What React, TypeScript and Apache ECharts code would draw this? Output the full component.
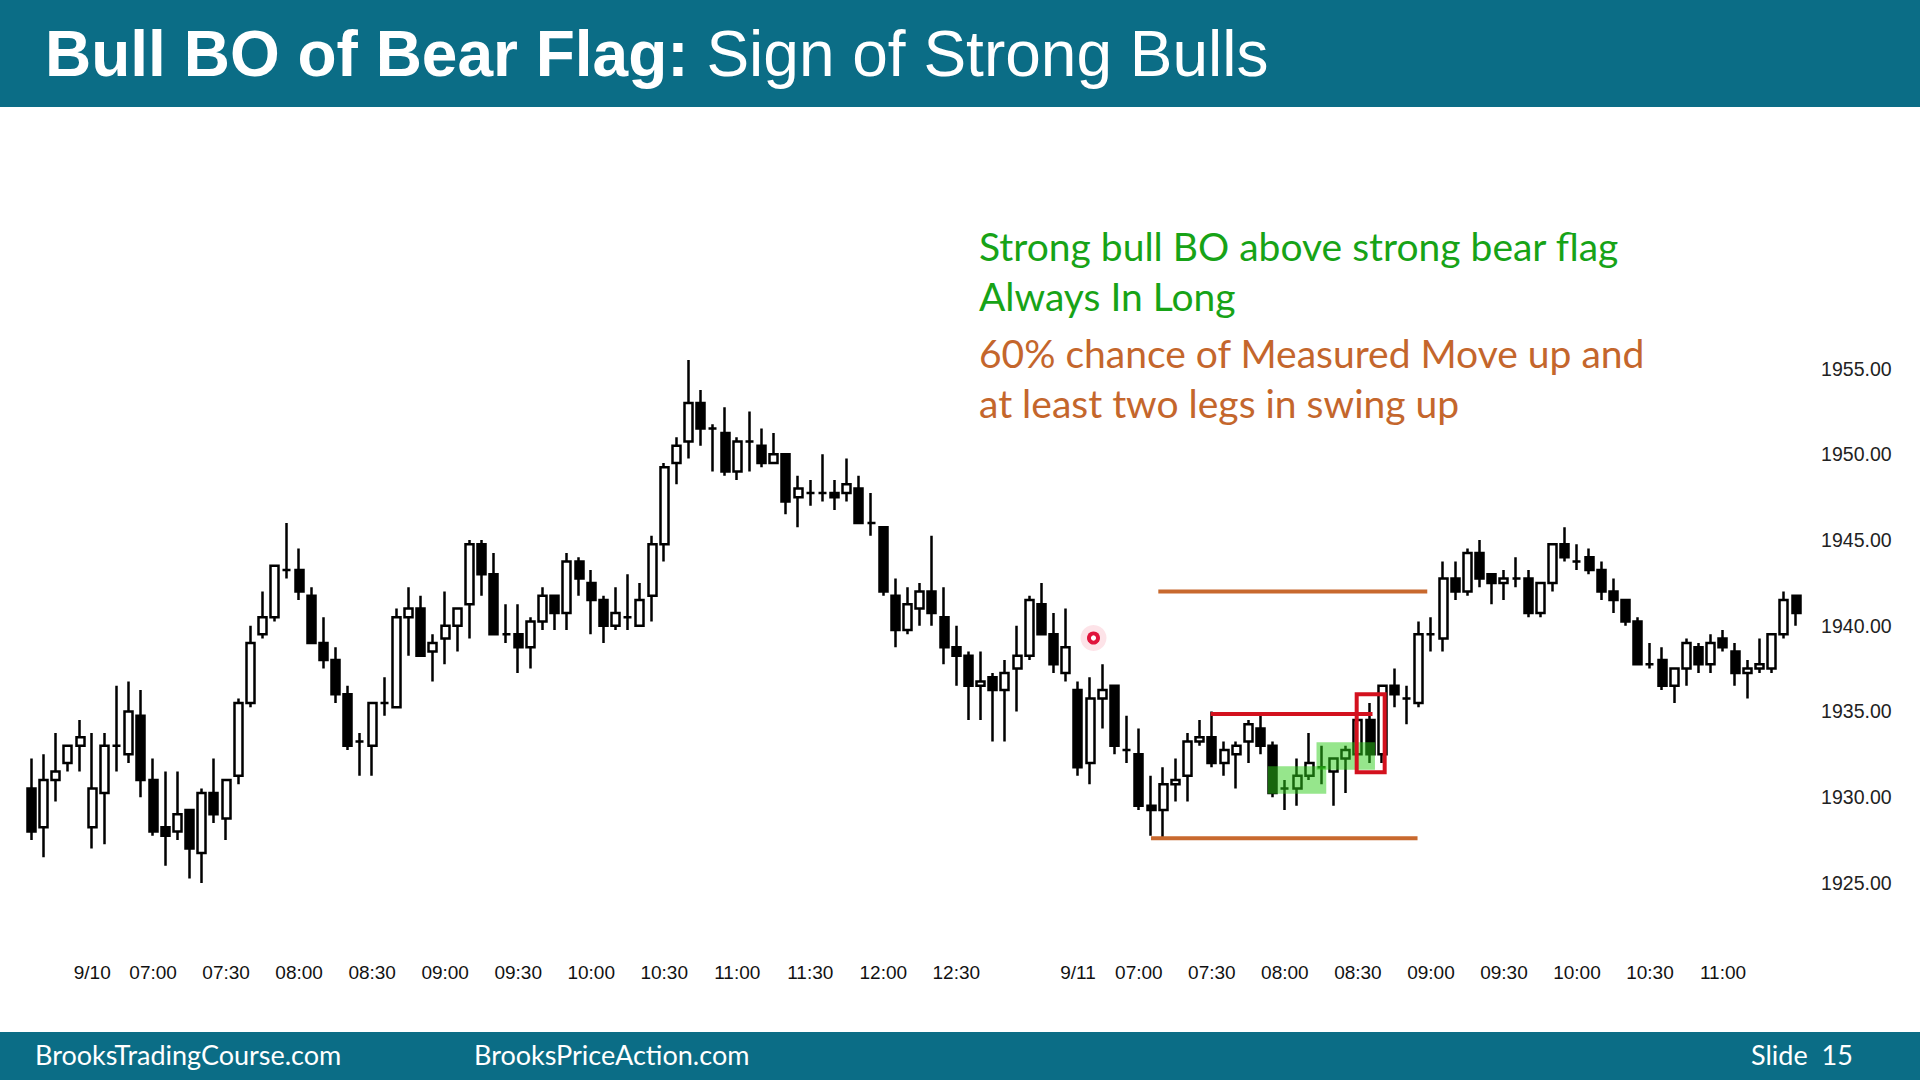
import React, { useEffect, useRef } from 'react';
import * as echarts from 'echarts';

// ---------- DATA ----------
const opens = [
  1930.5, 1928.25, 1931.0, 1932.0, 1933.0, 1928.25, 1930.25, 1933.0, 1932.5, 1934.75,
  1931.0, 1928.25, 1928.0, 1929.25, 1926.75, 1930.25, 1928.75, 1931.25, 1935.5, 1939.5,
  1940.5, 1943.25, 1943.25, 1941.75, 1939.0, 1938.0, 1936.0, 1933.25, 1933.0, 1935.5,
  1935.25, 1940.5, 1941.0, 1938.5, 1939.25, 1940.0, 1941.25, 1944.75, 1943.0, 1939.5,
  1939.5, 1938.75, 1940.25, 1941.75, 1940.75, 1943.75, 1942.5, 1941.5, 1940.0, 1940.5,
  1940.0, 1941.75, 1944.75, 1949.5, 1950.75, 1953.0, 1951.5, 1951.25, 1949.0, 1950.75,
  1950.5, 1949.5, 1950.0, 1947.5, 1947.75, 1947.75, 1947.75, 1947.75, 1948.0, 1946.0,
  1945.75, 1941.75, 1939.75, 1941.0, 1942.0, 1940.5, 1938.75, 1938.25, 1936.5, 1937.0,
  1936.25, 1937.5, 1938.25, 1941.25, 1939.5, 1937.25, 1936.25, 1932.0, 1935.75, 1936.5,
  1932.75, 1932.5, 1929.5, 1929.25, 1930.75, 1931.25, 1933.25, 1933.5, 1932.0, 1932.5,
  1933.25, 1934.0, 1933.0, 1930.5, 1930.5, 1931.25, 1931.75, 1931.5, 1932.25, 1932.5,
  1934.5, 1932.5, 1936.5, 1935.75, 1935.5, 1939.5, 1939.25, 1942.75, 1942.0, 1944.25,
  1943.0, 1942.5, 1942.75, 1942.75, 1940.75, 1942.5, 1944.75, 1943.75, 1944.0, 1943.25,
  1942.0, 1941.5, 1940.25, 1937.75, 1938.0, 1936.5, 1937.5, 1938.75, 1937.75, 1939.25,
  1938.5, 1937.25, 1937.5, 1937.5, 1939.5, 1941.75,
];
const highs = [
  1932.25, 1932.5, 1933.75, 1933.0, 1934.5, 1933.75, 1933.75, 1936.5, 1936.75, 1936.25,
  1932.25, 1931.5, 1931.5, 1929.25, 1930.5, 1932.25, 1931.0, 1935.75, 1940.0, 1942.0,
  1943.5, 1946.0, 1944.5, 1942.25, 1940.5, 1938.75, 1936.5, 1933.75, 1935.5, 1937.0,
  1941.0, 1942.25, 1941.75, 1939.5, 1942.0, 1941.0, 1945.0, 1945.0, 1944.25, 1941.25,
  1941.25, 1940.5, 1942.25, 1941.75, 1944.25, 1944.0, 1943.25, 1941.75, 1942.25, 1943.0,
  1942.5, 1945.25, 1949.5, 1951.0, 1955.5, 1953.75, 1951.75, 1952.75, 1951.0, 1952.5,
  1951.5, 1951.25, 1950.0, 1948.75, 1948.5, 1950.0, 1948.5, 1949.75, 1948.75, 1947.75,
  1945.75, 1942.75, 1942.25, 1942.5, 1945.25, 1942.25, 1940.0, 1938.5, 1938.5, 1937.25,
  1938.0, 1940.0, 1941.75, 1942.5, 1940.75, 1941.0, 1936.75, 1937.0, 1937.75, 1936.5,
  1934.75, 1934.0, 1931.25, 1931.75, 1932.25, 1933.75, 1934.5, 1935.0, 1933.25, 1933.25,
  1934.5, 1934.75, 1933.25, 1931.0, 1932.25, 1933.75, 1933.0, 1932.25, 1933.0, 1934.5,
  1935.5, 1936.5, 1937.5, 1936.5, 1940.25, 1940.5, 1943.75, 1943.75, 1944.5, 1945.0,
  1943.0, 1943.25, 1944.0, 1943.25, 1942.5, 1944.75, 1945.75, 1944.75, 1944.5, 1943.75,
  1942.75, 1941.5, 1940.5, 1939.0, 1938.75, 1937.5, 1939.25, 1939.0, 1939.5, 1939.75,
  1939.0, 1938.0, 1939.25, 1939.5, 1942.0, 1941.75,
];
const lows = [
  1927.5, 1926.5, 1929.75, 1931.5, 1931.5, 1927.0, 1927.25, 1931.5, 1932.0, 1930.0,
  1927.75, 1926.0, 1927.5, 1925.25, 1925.0, 1928.5, 1927.5, 1930.75, 1935.25, 1939.25,
  1940.25, 1942.75, 1941.5, 1939.0, 1937.5, 1935.5, 1932.75, 1931.25, 1931.25, 1934.75,
  1935.25, 1938.25, 1938.25, 1936.75, 1937.75, 1938.5, 1939.25, 1941.75, 1939.5, 1939.0,
  1937.25, 1937.5, 1939.75, 1939.75, 1939.75, 1941.75, 1939.5, 1939.0, 1939.75, 1939.75,
  1940.0, 1940.25, 1943.75, 1948.25, 1949.75, 1950.5, 1949.0, 1948.75, 1948.5, 1949.0,
  1949.25, 1949.5, 1946.5, 1945.75, 1947.0, 1947.25, 1946.75, 1947.25, 1946.0, 1945.25,
  1941.75, 1938.75, 1939.5, 1940.0, 1940.0, 1937.75, 1936.5, 1934.5, 1934.5, 1933.25,
  1933.25, 1935.0, 1938.0, 1939.5, 1937.25, 1936.75, 1931.25, 1930.75, 1934.0, 1932.5,
  1932.0, 1929.25, 1927.75, 1927.5, 1929.75, 1929.75, 1933.0, 1931.75, 1931.25, 1930.5,
  1932.0, 1932.5, 1930.0, 1929.25, 1929.5, 1931.0, 1930.75, 1929.5, 1930.25, 1932.5,
  1932.0, 1932.0, 1935.25, 1934.25, 1935.25, 1938.5, 1938.5, 1941.5, 1941.75, 1942.25,
  1941.25, 1941.5, 1942.25, 1940.5, 1940.5, 1942.0, 1943.75, 1943.25, 1943.0, 1941.5,
  1940.75, 1940.0, 1937.75, 1937.5, 1936.25, 1935.5, 1936.5, 1937.25, 1937.25, 1938.5,
  1936.5, 1935.75, 1937.25, 1937.25, 1939.25, 1940.0,
];
const closes = [
  1928.0, 1931.0, 1931.5, 1933.0, 1933.5, 1930.5, 1933.0, 1933.0, 1935.0, 1931.0,
  1928.0, 1927.75, 1929.0, 1927.0, 1930.25, 1929.0, 1931.0, 1935.5, 1939.0, 1940.5,
  1943.5, 1943.25, 1942.0, 1939.0, 1938.0, 1936.0, 1933.0, 1933.25, 1935.5, 1935.5,
  1940.5, 1941.0, 1938.25, 1939.0, 1940.0, 1941.0, 1944.75, 1943.0, 1939.5, 1939.5,
  1938.75, 1940.25, 1941.75, 1940.75, 1943.75, 1942.75, 1941.5, 1940.0, 1940.75, 1940.5,
  1941.5, 1944.75, 1949.25, 1950.5, 1953.0, 1951.5, 1951.5, 1949.0, 1950.75, 1950.75,
  1949.5, 1950.0, 1947.25, 1948.0, 1947.75, 1947.75, 1947.5, 1948.25, 1946.0, 1946.0,
  1942.0, 1939.75, 1941.25, 1942.0, 1940.75, 1938.75, 1938.25, 1936.5, 1936.75, 1936.25,
  1937.25, 1938.25, 1941.5, 1939.5, 1937.75, 1938.75, 1931.75, 1935.75, 1936.25, 1933.0,
  1932.75, 1929.5, 1929.25, 1930.75, 1931.0, 1933.25, 1933.5, 1932.0, 1932.75, 1933.0,
  1934.25, 1933.0, 1930.25, 1930.5, 1931.25, 1932.0, 1931.75, 1932.25, 1932.75, 1934.5,
  1932.5, 1936.5, 1936.0, 1935.75, 1939.5, 1939.5, 1942.75, 1942.0, 1944.25, 1942.75,
  1942.5, 1942.75, 1942.75, 1940.75, 1942.5, 1944.75, 1944.0, 1943.75, 1943.25, 1942.0,
  1941.5, 1940.25, 1937.75, 1937.75, 1936.5, 1937.5, 1939.0, 1937.75, 1939.0, 1938.75,
  1937.25, 1937.5, 1937.75, 1939.5, 1941.5, 1940.75,
];

// sessions shown on the chart (5-minute bars)
const sessionDates = ['9/9', '9/10', '9/11'];
const sessionStarts = ['12:55', '06:35', '06:35'];
const sessionEnds = ['13:15', '13:15', '11:30'];

// labelled bars on the time axis
const xTickKeys = [
  '9/10 06:35', '9/10 07:00', '9/10 07:30', '9/10 08:00', '9/10 08:30', '9/10 09:00', '9/10 09:30',
  '9/10 10:00', '9/10 10:30', '9/10 11:00', '9/10 11:30', '9/10 12:00', '9/10 12:30',
  '9/11 06:35', '9/11 07:00', '9/11 07:30', '9/11 08:00', '9/11 08:30', '9/11 09:00', '9/11 09:30',
  '9/11 10:00', '9/11 10:30', '9/11 11:00',
];
const xTickLabels = [
  '9/10', '07:00', '07:30', '08:00', '08:30', '09:00', '09:30',
  '10:00', '10:30', '11:00', '11:30', '12:00', '12:30',
  '9/11', '07:00', '07:30', '08:00', '08:30', '09:00', '09:30',
  '10:00', '10:30', '11:00',
];
const yTicks = [1925, 1930, 1935, 1940, 1945, 1950, 1955];

// annotations in data coordinates: [barFrom, barTo, price]
const measuredMoveLines = [
  [92.6, 114.7, 1942.0],
  [92.0, 113.9, 1927.6],
];
const flagTopLine = [96.9, 110.2, 1934.85];
// boxes: [barFrom, barTo, priceLow, priceHigh]
const greenBoxes = [
  [101.6, 106.4, 1930.2, 1931.8],
  [105.6, 110.4, 1931.6, 1933.2],
];
const redBoxes = [[108.9, 111.2, 1931.45, 1936.0]];

// ---------- helpers ----------
const toMin = (s: string) => {
  const [h, m] = s.split(':').map(Number);
  return h * 60 + m;
};
const fmt = (t: number) =>
  `${String(Math.floor(t / 60)).padStart(2, '0')}:${String(t % 60).padStart(2, '0')}`;

const categories: string[] = [];
sessionDates.forEach((d, i) => {
  for (let t = toMin(sessionStarts[i]); t <= toMin(sessionEnds[i]); t += 5) {
    categories.push(`${d} ${fmt(t)}`);
  }
});

const TEAL = '#0B6D86';
const ORANGE = '#C8692E';
const RED = '#D3111E';
const SANS = '"Liberation Sans", Arial, sans-serif';
const CAL = 'Lato, "Open Sans", sans-serif';

export default function App() {
  const ref = useRef<HTMLDivElement>(null);

  useEffect(() => {
    if (!ref.current) return;
    const chart = echarts.init(ref.current, undefined, { renderer: 'svg' });

    const candleData = categories.map((_, i) => [opens[i], closes[i], lows[i], highs[i]]);
    const n = categories.length;

    const lineSeries = [...measuredMoveLines.map((l) => ({ l, color: ORANGE, w: 4 })), { l: flagTopLine, color: RED, w: 4 }].map(
      (o) => ({
        type: 'line',
        xAxisIndex: 1,
        yAxisIndex: 0,
        data: [
          [o.l[0], o.l[2]],
          [o.l[1], o.l[2]],
        ],
        symbol: 'none',
        lineStyle: { color: o.color, width: o.w },
        z: 5,
        silent: true,
      })
    );

    const boxSeries = (data: number[][], style: any, z: number) => ({
      type: 'custom',
      xAxisIndex: 1,
      yAxisIndex: 0,
      z,
      silent: true,
      encode: { x: [0, 1], y: [2, 3] },
      data,
      renderItem: (_p: any, api: any) => {
        const a = api.coord([api.value(0), api.value(3)]);
        const b = api.coord([api.value(1), api.value(2)]);
        return {
          type: 'rect',
          shape: { x: a[0], y: a[1], width: b[0] - a[0], height: b[1] - a[1] },
          style,
        };
      },
    });

    const option: any = {
      animation: false,
      backgroundColor: '#ffffff',
      grid: { left: 25.3, width: 1776.8, top: 282.9, height: 600, containLabel: false },
      xAxis: [
        {
          type: 'category',
          data: categories,
          boundaryGap: true,
          axisLine: { show: false },
          axisTick: { show: false },
          splitLine: { show: false },
          axisLabel: {
            interval: 0,
            margin: 80,
            color: '#111',
            fontSize: 19,
            fontFamily: SANS,
            formatter: (v: string) => {
              const k = xTickKeys.indexOf(v);
              return k >= 0 ? xTickLabels[k] : '';
            },
          },
        },
        {
          type: 'value',
          show: false,
          min: -0.5,
          max: n - 0.5,
        },
      ],
      yAxis: {
        type: 'value',
        position: 'right',
        min: 1925,
        max: 1960,
        interval: 5,
        axisLine: { show: false },
        axisTick: { show: false },
        splitLine: { show: false },
        axisLabel: {
          margin: 19,
          color: '#222',
          fontSize: 19.5,
          fontFamily: SANS,
          align: 'left',
          formatter: (v: number) => (yTicks.includes(v) ? v.toFixed(2) : ''),
        },
      },
      series: [
        {
          type: 'candlestick',
          data: candleData,
          barWidth: 8.5,
          z: 2,
          itemStyle: {
            color: '#ffffff',
            color0: '#000000',
            borderColor: '#000000',
            borderColor0: '#000000',
            borderColorDoji: '#000000',
            borderWidth: 2.5,
          },
        },
        boxSeries(greenBoxes, { fill: 'rgba(45,205,25,0.5)' }, 3),
        boxSeries(redBoxes, { fill: 'none', stroke: RED, lineWidth: 4 }, 6),
        ...lineSeries,
      ],
      graphic: [
        { type: 'rect', shape: { x: 0, y: 0, width: 1920, height: 107 }, style: { fill: TEAL }, z: 10 },
        {
          type: 'text',
          x: 45,
          y: 54,
          z: 11,
          style: {
            text: '{b|Bull BO of Bear Flag:} {r|Sign of Strong Bulls}',
            verticalAlign: 'middle',
            align: 'left',
            fill: '#fff',
            fontSize: 64,
            fontFamily: SANS,
            rich: {
              b: { fontWeight: 'bold', fontSize: 64, fontFamily: SANS, fill: '#fff' },
              r: { fontWeight: 'normal', fontSize: 64, fontFamily: SANS, fill: '#fff' },
            },
          },
        },
        { type: 'rect', shape: { x: 0, y: 1032, width: 1920, height: 48 }, style: { fill: TEAL }, z: 10 },
        {
          type: 'text', x: 35, y: 1054, z: 11,
          style: { text: 'BrooksTradingCourse.com', fill: '#fff', fontSize: 27, fontFamily: CAL, verticalAlign: 'middle' },
        },
        {
          type: 'text', x: 474, y: 1054, z: 11,
          style: { text: 'BrooksPriceAction.com', fill: '#fff', fontSize: 27, fontFamily: CAL, verticalAlign: 'middle' },
        },
        {
          type: 'text', x: 1751, y: 1054, z: 11,
          style: { text: 'Slide  15', fill: '#fff', fontSize: 27, fontFamily: CAL, verticalAlign: 'middle' },
        },
        {
          type: 'text', x: 979, y: 246, z: 11,
          style: { text: 'Strong bull BO above strong bear flag', fill: '#17A317', fontSize: 39, fontFamily: CAL, verticalAlign: 'middle' },
        },
        {
          type: 'text', x: 979, y: 296, z: 11,
          style: { text: 'Always In Long', fill: '#17A317', fontSize: 39, fontFamily: CAL, verticalAlign: 'middle' },
        },
        {
          type: 'text', x: 979, y: 353, z: 11,
          style: { text: '60% chance of Measured Move up and', fill: '#C4662C', fontSize: 39, fontFamily: CAL, verticalAlign: 'middle' },
        },
        {
          type: 'text', x: 979, y: 403, z: 11,
          style: { text: 'at least two legs in swing up', fill: '#C4662C', fontSize: 39, fontFamily: CAL, verticalAlign: 'middle' },
        },
        { type: 'circle', shape: { cx: 1093.5, cy: 638, r: 13 }, style: { fill: 'rgba(240,60,90,0.14)' }, z: 12 },
        { type: 'circle', shape: { cx: 1093.5, cy: 638, r: 6.5 }, style: { fill: '#E0143C' }, z: 12 },
        { type: 'circle', shape: { cx: 1093.5, cy: 638, r: 2.6 }, style: { fill: '#ffffff' }, z: 13 },
      ],
    };

    chart.setOption(option);
    return () => chart.dispose();
  }, []);

  return (
    <div
      ref={ref}
      style={{ position: 'fixed', left: 0, top: 0, width: 1920, height: 1080, background: '#fff' }}
    />
  );
}
